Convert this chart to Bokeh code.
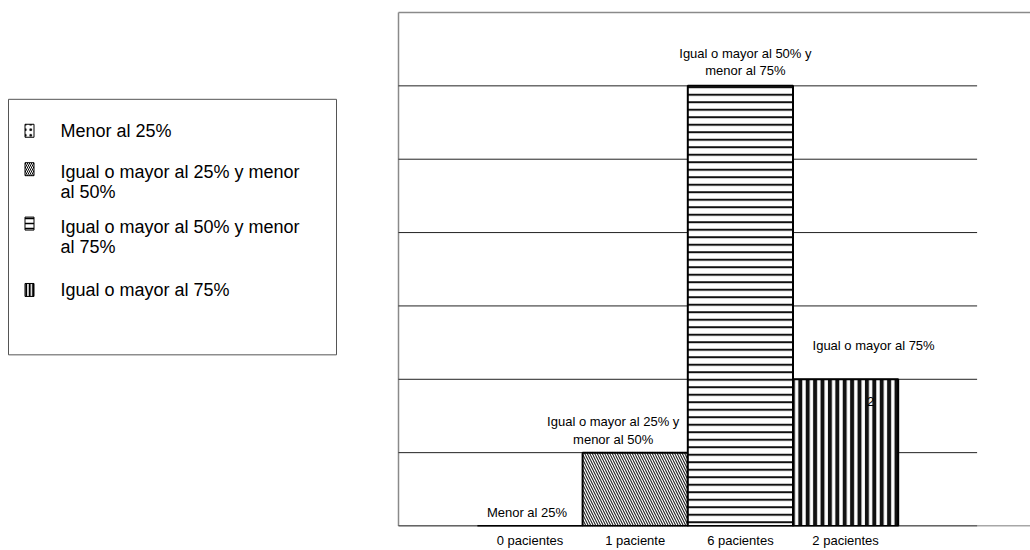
import textwrap
from bokeh.plotting import figure
from bokeh.layouts import row
from bokeh.models import Range1d, FixedTicker
from bokeh.core.properties import value
from bokeh.embed import file_html
from bokeh.resources import INLINE

# ---------------- data ----------------
categories = ["0 pacientes", "1 paciente", "6 pacientes", "2 pacientes"]
counts = [0, 1, 6, 2]
series_names = [
    "Menor al 25%",
    "Igual o mayor al 25% y menor al 50%",
    "Igual o mayor al 50% y menor al 75%",
    "Igual o mayor al 75%",
]
y_ticks = [0, 1, 2, 3, 4, 5, 6]
y_max = 7
value_label_bar = 3  # bar that also shows its value

# ---------------- styles ----------------
FONT = "Liberation Sans"
hatch_patterns = [".", "\\", "-", "|"]
hatch_scales = [6, 5, 7.5, 7.4]
hatch_weights = [1, 1.1, 2, 4]
hatch_colors = ["#111111", "#222222", "#111111", "#111111"]
icon_scales = [5.5, 4, 5, 3.4]
icon_weights = [1.3, 1, 1.5, 2.4]
label_dx = [-3, -22, 5, 28]
label_dy = [-6, -6, -8, -26]

xs = list(range(len(categories)))
bar_w = 1.0
margin = 0.75
x_left = xs[0] - bar_w / 2 - margin
x_right = xs[-1] + bar_w / 2 + margin

H = 550
TOP = 10          # frame top (px)
STANDOFF = 6

leg_w = 396
chart_w = 1030 - leg_w
ppu_x = 105.2
x_start = x_left - 2 / ppu_x
x_end = x_start + chart_w / ppu_x

ppu_y = 73.5
y_start = -0.5 / ppu_y
y_end = y_max + 2 / ppu_y


def style_axis(ax):
    ax.axis_line_color = None
    ax.major_tick_line_color = None
    ax.minor_tick_line_color = None
    ax.major_tick_out = 0
    ax.major_tick_in = 0
    ax.major_label_standoff = STANDOFF
    ax.major_label_text_font = FONT
    ax.major_label_text_font_size = "13px"
    ax.major_label_text_color = "black"


# ---------------- chart ----------------
p = figure(width=chart_w, height=H, output_backend="svg", toolbar_location=None,
           x_range=Range1d(x_start, x_end), y_range=Range1d(y_start, y_end),
           y_axis_location=None, min_border_left=0, min_border_right=0,
           min_border_top=TOP, min_border_bottom=0)
p.outline_line_color = None
p.grid.visible = False

ax = p.xaxis[0]
ax.ticker = FixedTicker(ticks=xs)
ax.major_label_overrides = {x: c for x, c in zip(xs, categories)}
style_axis(ax)

# frame (gray)
p.segment(x0=[x_left, x_left, x_left], y0=[y_max, 0, 0],
          x1=[x_end, x_left, x_end], y1=[y_max, y_max, 0],
          line_color="#8a8a8a", line_width=1.5)
# gridlines
p.segment(x0=[x_left] * len(y_ticks), y0=y_ticks, x1=[x_right] * len(y_ticks), y1=y_ticks,
          line_color="#222222", line_width=1)

for i, (x, c) in enumerate(zip(xs, counts)):
    p.vbar(x=[x], top=[c], bottom=0, width=bar_w, fill_color="white",
           line_color="black", line_width=2,
           hatch_pattern=hatch_patterns[i], hatch_scale=hatch_scales[i],
           hatch_weight=hatch_weights[i], hatch_color=hatch_colors[i])

labels = [textwrap.fill(n, 22) for n in series_names]
for i, (x, c) in enumerate(zip(xs, counts)):
    p.text(x=[x], y=[c], text=[labels[i]], x_offset=label_dx[i], y_offset=label_dy[i],
           text_align="center", text_baseline="bottom", text_font=value(FONT),
           text_font_size="13px", text_line_height=1.15, text_color="black")

p.text(x=[xs[value_label_bar]], y=[counts[value_label_bar]], text=[str(counts[value_label_bar])],
       x_offset=25, y_offset=22, text_align="center", text_baseline="middle",
       text_font=value(FONT), text_font_size="13px", text_color="black")

# ---------------- legend (page-pixel coordinates) ----------------
frame_bottom = 527
lg = figure(width=leg_w, height=H, output_backend="svg", toolbar_location=None,
            x_range=Range1d(0, leg_w), y_range=Range1d(frame_bottom, TOP),
            y_axis_location=None, min_border_left=0, min_border_right=0,
            min_border_top=TOP, min_border_bottom=0)
lg.outline_line_color = None
lg.grid.visible = False
lax = lg.xaxis[0]
lax.ticker = FixedTicker(ticks=[leg_w / 2])
style_axis(lax)
lax.major_label_text_alpha = 0

lg.quad(left=[8], right=[336], top=[99], bottom=[355], fill_color="white",
        line_color="#555555", line_width=1)

icon_y = [130.5, 169, 223.5, 290]
text_y = [131, 182, 237, 290]
leg_labels = [textwrap.fill(n, 28) for n in series_names]
for i in range(len(series_names)):
    lg.rect(x=[29], y=[icon_y[i]], width=9, height=13, fill_color="white",
            line_color="black", line_width=1,
            hatch_pattern=hatch_patterns[i], hatch_scale=icon_scales[i],
            hatch_weight=icon_weights[i], hatch_color="black")
    lg.text(x=[60], y=[text_y[i]], text=[leg_labels[i]], text_align="left",
            text_baseline="middle", text_font=value(FONT), text_font_size="18px",
            text_line_height=0.97, text_color="black")

layout = row(lg, p, spacing=0)
open("out.html", "w").write(file_html(layout, INLINE))
